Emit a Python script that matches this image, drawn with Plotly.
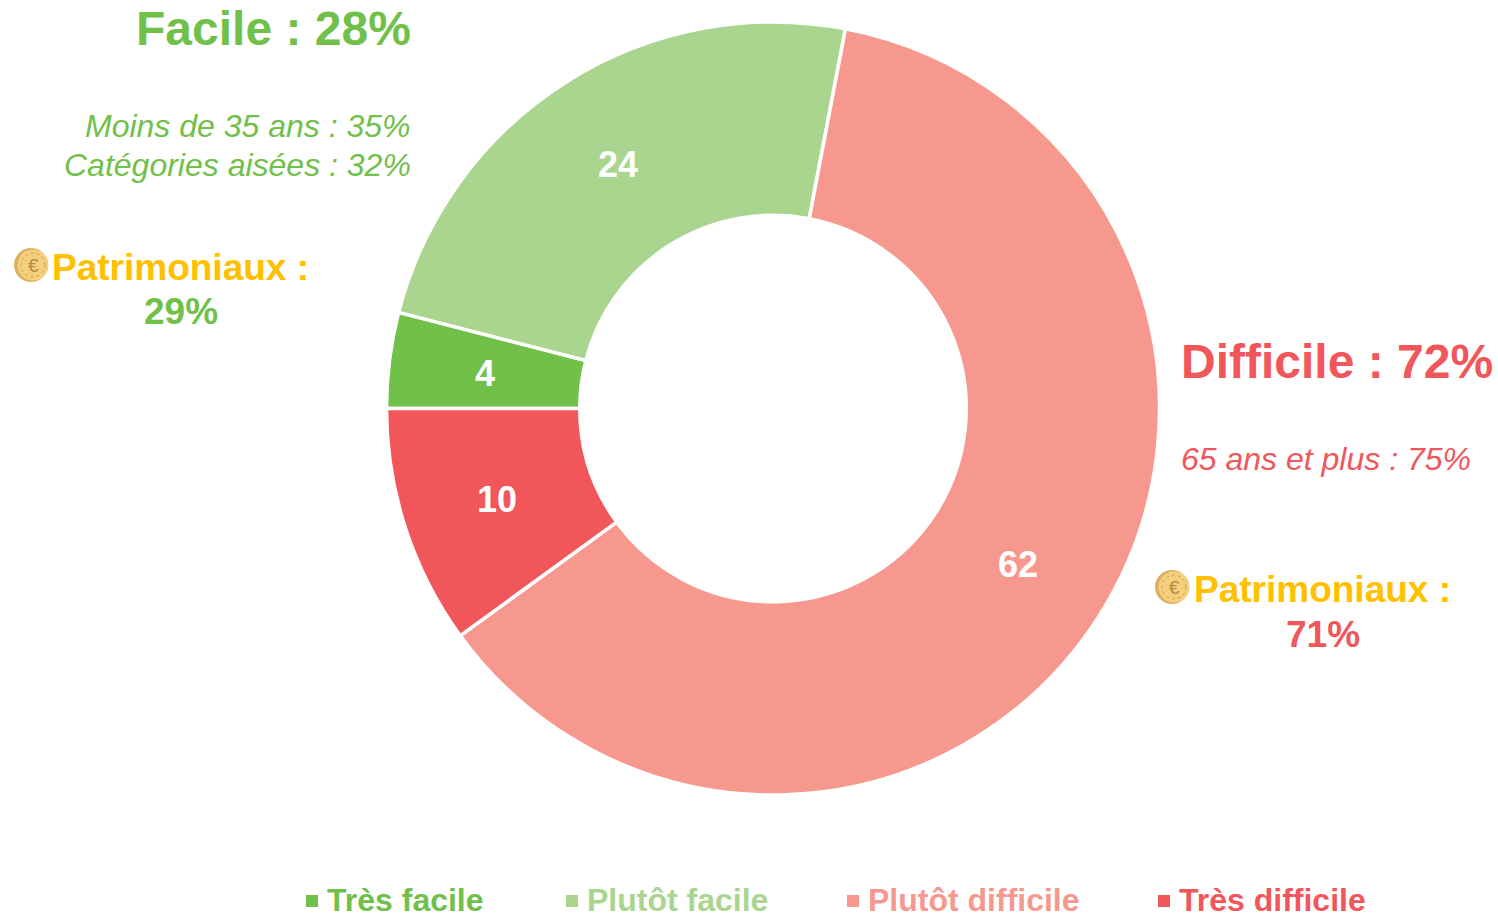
import math
import plotly.graph_objects as go

categories = ["Très facile", "Plutôt facile", "Plutôt difficile", "Très difficile"]
values = [4, 24, 62, 10]
colors = ["#70C04A", "#AAD58F", "#F7988F", "#F1565B"]
W, H = 1498, 940  # slightly taller than the window, so the bottom legend's text boxes stay inside the figure
FONT = "Liberation Sans"

def px(x):
    return x / W

def py(y):
    return 1 - y / H

CX, CY, R_OUT, R_IN = 773, 409, 385, 195

fig = go.Figure(go.Pie(
    labels=categories, values=values, hole=0.5, sort=False, direction="clockwise", rotation=270,
    marker=dict(colors=colors, line=dict(color="white", width=3.5)),
    textinfo="none", hoverinfo="label+value",
    domain=dict(x=[px(386), px(1160)], y=[py(795), py(22)]), showlegend=False))

PAD = {"right": 3, "left": -2, "center": 0}

def note(x, y, text, color, size, anchor="right", bold=False, italic=False):
    t = f"<b>{text}</b>" if bold else (f"<i>{text}</i>" if italic else text)
    fig.add_annotation(x=px(x + PAD[anchor]), y=py(y), xref="paper", yref="paper", text=t, showarrow=False,
                       xanchor=anchor, yanchor="middle", font=dict(family=FONT, size=size, color=color))

# Value labels sit at the mid-radius of each slice, on the angle derived from the values
total = sum(values)
cum = 0
for v in values:
    frac = (cum + v / 2) / total
    a = 2 * math.pi * frac
    r = (R_OUT + R_IN) / 2
    note(CX - r * math.cos(a), CY - r * math.sin(a) + 0.5, str(v), "white", 36, "center", bold=True)
    cum += v

G, R, Y = "#70C04A", "#F1565B", "#FFC000"
note(410, 28.5, "Facile : 28%", G, 48, bold=True)
note(410, 126, "Moins de 35 ans : 35%", G, 32, italic=True)
note(410, 165, "Catégories aisées : 32%", G, 32, italic=True)
note(52, 267.5, "Patrimoniaux :", Y, 37, "left", bold=True)
note(181, 311.5, "29%", G, 37, "center", bold=True)
note(1181, 361, "Difficile : 72%", R, 48, "left", bold=True)
note(1181, 459, "65 ans et plus : 75%", R, 32, "left", italic=True)
note(1194, 589, "Patrimoniaux :", Y, 37, "left", bold=True)
note(1323, 634.5, "71%", R, 37, "center", bold=True)

def circle(cx, cy, r, fill, line=None, width=0, dash="solid"):
    fig.add_shape(type="circle", xref="paper", yref="paper",
                  x0=px(cx - r), x1=px(cx + r), y0=py(cy + r), y1=py(cy - r),
                  fillcolor=fill, line=dict(color=line or fill, width=width, dash=dash))

for cx, cy in [(31, 265), (1172, 587)]:
    circle(cx, cy, 17, "#DDB05F")
    circle(cx + 2, cy, 15.5, "#F4CF7E")
    circle(cx + 2, cy, 12, "rgba(0,0,0,0)", "#C9A053", 1, "dot")
    note(cx + 2, cy, "€", "#B98B3C", 19, "center")

for x, c, col in [(306, categories[0], colors[0]), (566, categories[1], colors[1]),
                  (847, categories[2], colors[2]), (1158, categories[3], colors[3])]:
    fig.add_shape(type="rect", xref="paper", yref="paper", x0=px(x), x1=px(x + 12),
                  y0=py(907), y1=py(895), fillcolor=col, line_width=0)
    note(x + 21, 900, c, col, 32, "left", bold=True)

fig.update_layout(width=W, height=H, margin=dict(l=0, r=0, t=0, b=0), paper_bgcolor="white")
fig.write_html("out.html", config={"displayModeBar": False},
               post_script="document.body.style.margin='0';document.documentElement.style.overflow='hidden';")
